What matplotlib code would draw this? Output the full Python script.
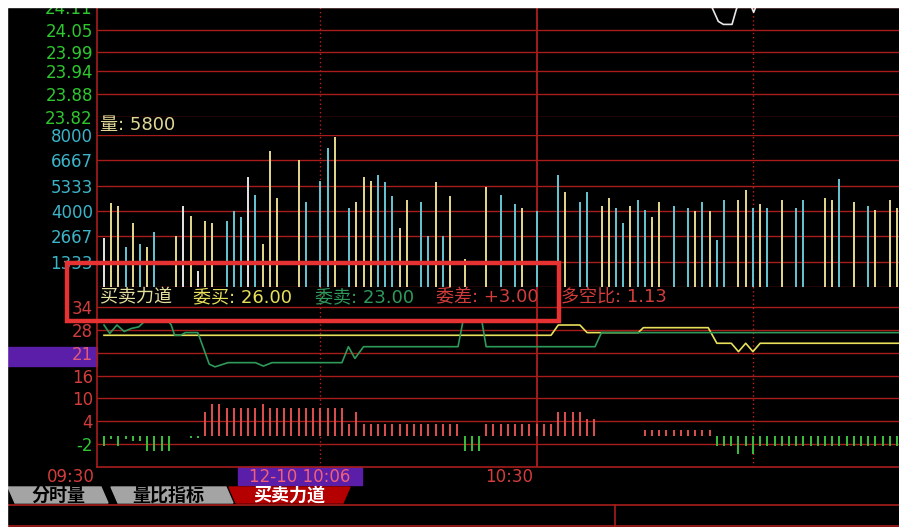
import matplotlib
matplotlib.use("Agg")
import matplotlib.pyplot as plt
from matplotlib.patches import Rectangle, Polygon

plt.rcParams['font.family'] = ['DejaVu Sans', 'Noto Sans CJK SC']

W, H = 899, 527

# ----- data (x = minutes after 09:30) -----
vol_min = [0, 1, 2, 3, 4, 5, 6, 7, 10, 11, 12, 13, 14, 15, 17, 18, 19, 20, 21, 22,
           23, 24, 27, 28, 30, 31, 32, 34, 35, 36, 37, 38, 39, 40, 41, 42, 44, 45,
           46, 47, 48, 50, 53, 55, 57, 58, 60, 63, 64, 66, 67, 69, 70, 71, 72, 73,
           74, 75, 76, 77, 79, 81, 82, 83, 84, 85, 86, 88, 89, 90, 91, 92, 94, 96,
           97, 100, 101, 102, 104, 106, 107, 109, 110]
vol_val = [2600, 4400, 4270, 2090, 3360, 2270, 2090, 2910, 2670, 4270, 3750, 820,
           3490, 3360, 3490, 4010, 3710, 5790, 4860, 2270, 7180, 4710, 6660, 4460,
           5580, 7290, 7880, 4180, 4460, 5800, 5580, 5890, 5510, 4790, 3080, 4580,
           4460, 2670, 5510, 2670, 4790, 1500, 5260, 4860, 4390, 4170, 4010, 5910,
           4980, 4460, 4980, 4270, 4690, 4170, 3360, 4270, 4570, 4060, 3710, 4460,
           4270, 4170, 4010, 4460, 4010, 2490, 4570, 4570, 5110, 4170, 4390, 4170,
           4570, 4170, 4570, 4690, 4570, 5670, 4460, 4270, 4060, 4570, 4170]
vol_kind = ("wyycycyc" "ywywyy" "cccwcyyy" "yc" "ccy" "cyyycccyy" "ccycy" "yyccyc"
            "cy" "cc" "yyccyccyy" "ccycycc" "yycyc" "ycc" "yyc" "ycyyy")

# 委差 bars
wc_min = list(range(0, 10)) + [12, 13] + list(range(14, 69)) + list(range(75, 111))
wc_val = [-2.6, -0.8, -2.6, -0.8, -1.2, -1.2, -3.8, -3.8, -3.8, -3.8,
          -0.4, -0.4,
          6.5, 8.5, 8.5, 7.4, 7.4, 7.4, 7.4, 7.4, 8.5, 7.4,
          7.4, 7.4, 7.4, 7.4, 7.4, 7.4, 7.4, 7.4, 7.4, 7.4,
          3.3, 6.5, 3.3, 3.3, 3.3, 3.3, 3.3, 3.3, 3.3, 3.3,
          3.3, 3.3, 3.3, 3.3, 3.3, 3.3, -3.8, -3.8, -3.8, 3.3,
          3.3, 3.3, 3.3, 3.3, 3.3, 3.3, 3.3, 3.3, 3.3, 6.5,
          6.5, 6.5, 6.5, 4.5, 4.5,
          1.7, 1.7, 1.7, 1.7, 1.7, 1.7, 1.7, 1.7, 1.7, 1.7,
          -2.5, -2.5, -2.5, -4.5, -2.5, -4.5, -2.5, -2.5, -2.5, -2.5,
          -2.5, -2.5, -2.5, -2.5, -2.5, -2.5, -2.5, -2.5, -2.5, -2.5,
          -2.5, -2.5, -2.5, -2.5, -2.5, -2.5]

# 委买 (yellow) and 委卖 (green) lines
buy_min = [0, 62, 63, 66, 67, 74.1, 74.8, 83.8, 85, 87, 88, 89, 90, 91, 111]
buy_val = [26.6, 26.6, 29.3, 29.3, 27.3, 27.3, 28.6, 28.6, 24.5, 24.5, 22.3, 24.5,
           22.3, 24.5, 24.5]
sell_min = [0, 0.8, 1.8, 2.8, 3.8, 4.8, 5.6, 6.2, 8.8, 9.3, 9.8, 10.6, 11.3, 13.0,
            13.3, 14.6, 15.4, 17.2, 21.0, 22.1, 23.3, 33.0, 33.9, 34.8, 36.0, 49.1,
            49.8, 52.4, 53.0, 68.1, 69.0, 111]
sell_val = [29.3, 27.1, 29.3, 27.6, 28.4, 28.8, 30.2, 30.5, 30.5, 29.4, 26.6, 26.6,
            27.3, 27.3, 25.8, 19.0, 18.3, 19.4, 19.4, 18.5, 19.4, 19.4, 23.6, 20.5,
            23.6, 23.6, 30.4, 30.4, 23.6, 23.6, 27.3, 27.3]

# only visible piece of the price line
price_min = [83, 84.3, 85.2, 85.9, 87.1, 87.7, 88.3, 89.8, 90.1, 90.4, 91]
price_val = [24.15, 24.11, 24.072, 24.064, 24.064, 24.104, 24.13, 24.11, 24.096,
             24.11, 24.14]

price_ticks = [24.11, 24.05, 23.99, 23.94, 23.88, 23.82]
vol_ticks = [8000, 6667, 5333, 4000, 2667, 1333]
force_ticks = [34, 28, 22, 16, 10, 4, -2]
force_labels = ["34", "28", "21", "16", "10", "4", "-2"]

# ----- colors -----
GRID = '#a81c1c'
KIND_COLOR = {'y': '#e4da8e', 'c': '#66c6d2', 'w': '#e6e6e6'}
RED_TXT = '#d23c3c'
GREEN_TXT = '#2ec82e'
PURPLE = '#5a1ea8'

XL = (-0.97, 110.26)
FS_AX = 12      # axis labels
FS_HEAD = 13    # panel headers


def px_box(x0, y0, x1, y1):
    return [x0 / W, 1 - y1 / H, (x1 - x0) / W, (y1 - y0) / H]


fig = plt.figure(figsize=(W / 100, H / 100), dpi=100, facecolor='white')

# background in pixel coordinates
bg = fig.add_axes([0, 0, 1, 1], zorder=-1)
bg.set_xlim(0, W)
bg.set_ylim(H, 0)
bg.axis('off')
bg.add_patch(Rectangle((7, 7), W - 7, H - 7, color='black'))
bg.add_patch(Rectangle((7, 347), 90, 19, color=PURPLE))      # cursor value on axis
bg.add_patch(Rectangle((238, 467), 124, 18, color=PURPLE))   # cursor time

# tabs
bg.add_patch(Polygon([(8, 487), (101, 487), (108, 503), (15, 503)], color='#a4a4a4'))
bg.add_patch(Polygon([(111, 487), (226, 487), (233, 503), (118, 503)], color='#a4a4a4'))
bg.add_patch(Polygon([(229, 487), (350, 487), (343, 503), (236, 503)], color='#b40000'))
bg.text(58, 495.5, "分时量", ha='center', va='center', fontsize=13,
        fontweight='bold', color='black')
bg.text(168, 495.5, "量比指标", ha='center', va='center', fontsize=13,
        fontweight='bold', color='black')
bg.text(289, 495.5, "买卖力道", ha='center', va='center', fontsize=13,
        fontweight='bold', color='white')
bg.plot([7, W], [505, 505], color=GRID, lw=1.2)
bg.plot([7, W], [525.5, 525.5], color=GRID, lw=1.2)
bg.plot([615, 615], [505, 525.5], color=GRID, lw=1.2)

# time labels
bg.text(95, 477, "09:30", ha='right', va='center', fontsize=FS_AX, color=RED_TXT)
bg.text(533, 477, "10:30", ha='right', va='center', fontsize=FS_AX, color=RED_TXT)
bg.text(300, 476.5, "12-10 10:06", ha='center', va='center', fontsize=FS_AX,
        color='#f0607a')

# frame: axis lines and vertical time lines across all panels
frame = fig.add_axes(px_box(97, 7, 899, 466.7), zorder=0)
frame.set_facecolor('none')
frame.set_xlim(*XL)
frame.set_ylim(0, 1)
frame.set_xticks([])
frame.set_yticks([])
for side in ('top', 'right'):
    frame.spines[side].set_visible(False)
for side in ('left', 'bottom'):
    frame.spines[side].set_color(GRID)
    frame.spines[side].set_linewidth(1.2)
frame.axvline(30, color='#c02020', lw=1.0, ls=(0, (1, 2)))
frame.axvline(60, color='#c02020', lw=1.2)
frame.axvline(90, color='#c02020', lw=1.0, ls=(0, (1, 2)))


def panel(box, ylim, ticks, labels, colors):
    ax = fig.add_axes(px_box(*box), zorder=1)
    ax.set_facecolor('none')
    ax.set_xlim(*XL)
    ax.set_ylim(*ylim)
    for s in ax.spines.values():
        s.set_visible(False)
    ax.set_xticks([])
    ax.set_yticks(ticks)
    ax.set_yticklabels(labels, fontsize=FS_AX)
    ax.tick_params(axis='y', length=0, pad=3)
    for lab, c in zip(ax.get_yticklabels(), colors):
        lab.set_color(c)
    for t in ticks:
        ax.axhline(t, color=GRID, lw=1.0, zorder=0)
    return ax


# ----- price panel
ax_p = panel((97, 7, 899, 116.7), (23.82, 24.11), price_ticks,
             [f"{v:.2f}" for v in price_ticks], [GREEN_TXT] * len(price_ticks))
ax_p.plot(price_min, price_val, color='#e8e8e8', lw=1.2)

# ----- volume panel
ax_v = panel((97, 135, 899, 287), (0, 8000), vol_ticks,
             [str(v) for v in vol_ticks], ['#3cb4c8'] * len(vol_ticks))
ax_v.axhline(0, color=GRID, lw=1.0, zorder=0)
ax_v.vlines(vol_min, 0, vol_val, colors=[KIND_COLOR[k] for k in vol_kind], lw=1.4)

# ----- buying/selling force panel
ax_f = panel((97, 287, 899, 466.7), (-7.97, 39.3), force_ticks, force_labels,
             [RED_TXT] * 6 + [GREEN_TXT])
ax_f.get_yticklabels()[2].set_color('#e05a78')
ax_f.vlines(wc_min, 0, wc_val,
            colors=['#e05050' if v > 0 else '#3cc03c' for v in wc_val], lw=1.4)
ax_f.plot(buy_min, buy_val, color='#e8e05a', lw=1.2)
ax_f.plot(sell_min, sell_val, color='#2e9a5a', lw=1.2)

# ----- overlay: headers, highlight box, white margins
top = fig.add_axes([0, 0, 1, 1], zorder=5)
top.set_xlim(0, W)
top.set_ylim(H, 0)
top.axis('off')
top.text(100, 125, "量: 5800", ha='left', va='center', fontsize=FS_HEAD,
         color='#e0d896')
top.text(100, 297, "买卖力道", ha='left', va='center', fontsize=FS_HEAD,
         color='#e6e0a0')
top.text(193, 297, "委买: 26.00", ha='left', va='center', fontsize=FS_HEAD,
         color='#e8e05a')
top.text(315, 297, "委卖: 23.00", ha='left', va='center', fontsize=FS_HEAD,
         color='#2e9a5a')
top.text(436, 297, "委差: +3.00", ha='left', va='center', fontsize=FS_HEAD,
         color=RED_TXT)
top.text(561, 297, "多空比: 1.13", ha='left', va='center', fontsize=FS_HEAD,
         color=RED_TXT)
top.add_patch(Rectangle((67, 263), 492, 58, fill=False, edgecolor='#e63232', lw=3.2))
top.add_patch(Rectangle((0, 0), W, 7, color='white'))
top.add_patch(Rectangle((0, 0), 7, H, color='white'))

fig.savefig("out.png", dpi=100, facecolor='white')
